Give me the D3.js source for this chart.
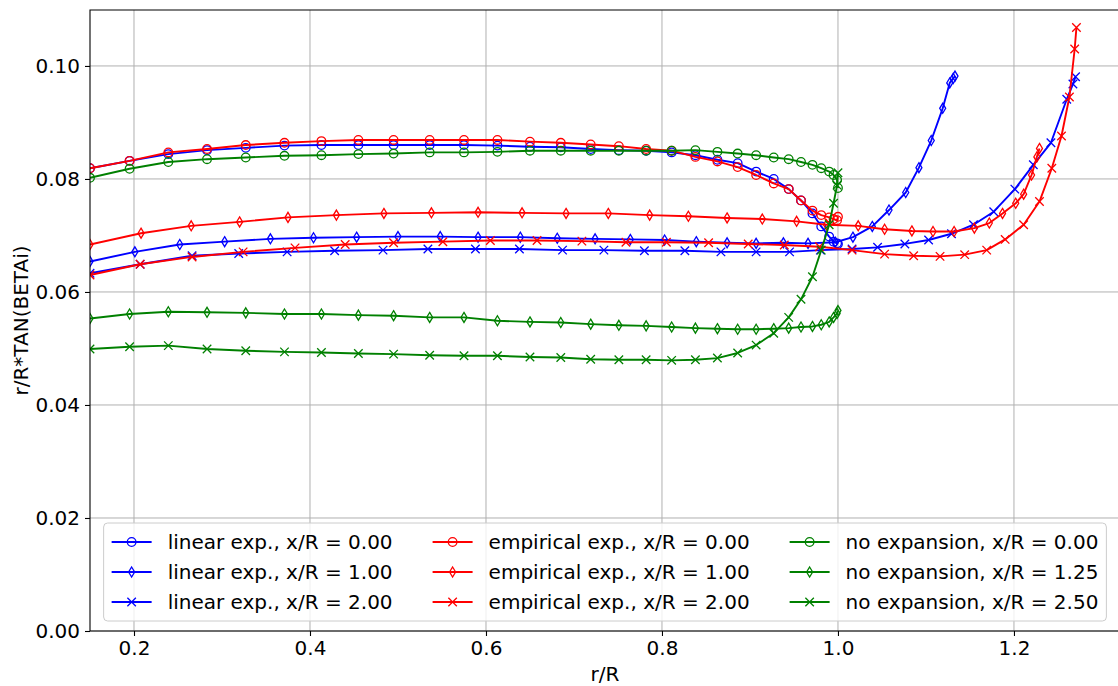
<!DOCTYPE html>
<html>
<head>
<meta charset="utf-8">
<script src="https://cdn.jsdelivr.net/npm/d3@7"></script>
<style>
  body { margin: 0; background: #fff; }
  svg { display: block; font-family: "DejaVu Sans", sans-serif; }
</style>
</head>
<body>
<div id="chart"></div>
<script>
// radial stations r/R, one list per run (blade expands with x/R)
const rBase = [0.150, 0.195, 0.239, 0.283, 0.327, 0.371, 0.413, 0.455, 0.495, 0.536, 0.575, 0.613, 0.650, 0.685, 0.719, 0.751, 0.782, 0.811, 0.838, 0.863, 0.886, 0.907, 0.927, 0.944, 0.958, 0.971, 0.981, 0.990, 0.995, 0.999, 1.000]
const rLin1 = [0.150, 0.201, 0.252, 0.303, 0.355, 0.404, 0.453, 0.500, 0.548, 0.591, 0.639, 0.681, 0.724, 0.764, 0.803, 0.839, 0.874, 0.907, 0.938, 0.966, 0.997, 1.017, 1.039, 1.058, 1.077, 1.092, 1.106, 1.119, 1.127, 1.131, 1.133]
const rLin2 = [0.150, 0.207, 0.266, 0.319, 0.374, 0.428, 0.483, 0.534, 0.588, 0.638, 0.687, 0.734, 0.780, 0.826, 0.867, 0.907, 0.945, 0.980, 1.016, 1.045, 1.076, 1.103, 1.129, 1.154, 1.177, 1.201, 1.222, 1.242, 1.260, 1.267, 1.270]
const rEmp1 = [0.150, 0.208, 0.265, 0.320, 0.375, 0.430, 0.484, 0.538, 0.591, 0.641, 0.691, 0.739, 0.786, 0.830, 0.874, 0.914, 0.953, 0.987, 1.023, 1.053, 1.084, 1.108, 1.132, 1.155, 1.172, 1.187, 1.202, 1.211, 1.220, 1.226, 1.229]
const rEmp2 = [0.150, 0.207, 0.266, 0.324, 0.383, 0.440, 0.495, 0.551, 0.605, 0.658, 0.709, 0.759, 0.805, 0.853, 0.898, 0.939, 0.979, 1.016, 1.053, 1.086, 1.116, 1.144, 1.169, 1.190, 1.211, 1.229, 1.243, 1.254, 1.263, 1.269, 1.271]

// r/R*tan(beta_i)
const linear0 = [0.0819, 0.0832, 0.0844, 0.0851, 0.0855, 0.0859, 0.0860, 0.0860, 0.0860, 0.0860, 0.0860, 0.0859, 0.0857, 0.0856, 0.0853, 0.0851, 0.0850, 0.0847, 0.0842, 0.0834, 0.0828, 0.0813, 0.0800, 0.0782, 0.0762, 0.0739, 0.0716, 0.0698, 0.0689, 0.0686, 0.0685]
const linear1 = [0.0654, 0.0671, 0.0684, 0.0689, 0.0694, 0.0696, 0.0697, 0.0698, 0.0698, 0.0697, 0.0697, 0.0695, 0.0694, 0.0693, 0.0692, 0.0689, 0.0687, 0.0686, 0.0687, 0.0686, 0.0688, 0.0697, 0.0716, 0.0745, 0.0776, 0.0820, 0.0868, 0.0925, 0.0970, 0.0978, 0.0982]
const linear2 = [0.0633, 0.0649, 0.0664, 0.0668, 0.0671, 0.0673, 0.0674, 0.0676, 0.0676, 0.0676, 0.0674, 0.0674, 0.0673, 0.0673, 0.0671, 0.0671, 0.0671, 0.0674, 0.0676, 0.0679, 0.0685, 0.0692, 0.0703, 0.0719, 0.0742, 0.0782, 0.0825, 0.0864, 0.0941, 0.0968, 0.0981]
const empirical0 = [0.0819, 0.0832, 0.0847, 0.0853, 0.0860, 0.0864, 0.0867, 0.0869, 0.0869, 0.0869, 0.0869, 0.0869, 0.0866, 0.0864, 0.0861, 0.0858, 0.0853, 0.0850, 0.0839, 0.0831, 0.0821, 0.0807, 0.0792, 0.0782, 0.0762, 0.0744, 0.0736, 0.0732, 0.0729, 0.0727, 0.0733]
const empirical1 = [0.0684, 0.0704, 0.0717, 0.0724, 0.0732, 0.0736, 0.0739, 0.0740, 0.0741, 0.0740, 0.0739, 0.0739, 0.0736, 0.0734, 0.0731, 0.0729, 0.0725, 0.0719, 0.0717, 0.0711, 0.0708, 0.0707, 0.0707, 0.0713, 0.0722, 0.0739, 0.0757, 0.0773, 0.0807, 0.0839, 0.0854]
const empirical2 = [0.0630, 0.0649, 0.0662, 0.0671, 0.0678, 0.0684, 0.0687, 0.0689, 0.0691, 0.0691, 0.0690, 0.0688, 0.0688, 0.0687, 0.0685, 0.0683, 0.0680, 0.0674, 0.0667, 0.0664, 0.0663, 0.0666, 0.0674, 0.0693, 0.0719, 0.0760, 0.0819, 0.0876, 0.0945, 0.1030, 0.1068]
const noexp0 = [0.0802, 0.0818, 0.0830, 0.0835, 0.0838, 0.0841, 0.0842, 0.0844, 0.0845, 0.0847, 0.0847, 0.0848, 0.0850, 0.0850, 0.0850, 0.0850, 0.0850, 0.0850, 0.0851, 0.0848, 0.0845, 0.0842, 0.0838, 0.0835, 0.0830, 0.0825, 0.0819, 0.0813, 0.0807, 0.0798, 0.0784]
const noexp1 = [0.0553, 0.0561, 0.0565, 0.0564, 0.0563, 0.0561, 0.0561, 0.0559, 0.0558, 0.0555, 0.0555, 0.0549, 0.0547, 0.0546, 0.0543, 0.0541, 0.0540, 0.0538, 0.0536, 0.0535, 0.0534, 0.0534, 0.0535, 0.0536, 0.0538, 0.0539, 0.0542, 0.0547, 0.0555, 0.0562, 0.0567]
const noexp2 = [0.0499, 0.0503, 0.0505, 0.0499, 0.0496, 0.0494, 0.0493, 0.0491, 0.0490, 0.0488, 0.0487, 0.0487, 0.0485, 0.0484, 0.0481, 0.0480, 0.0480, 0.0479, 0.0480, 0.0483, 0.0492, 0.0506, 0.0527, 0.0555, 0.0587, 0.0627, 0.0674, 0.0719, 0.0757, 0.0789, 0.0811]

const xTicks = [0.2, 0.4, 0.6, 0.8, 1.0, 1.2]
const yTicks = [0.00, 0.02, 0.04, 0.06, 0.08, 0.10]

const series = [
    { label: "linear exp., x/R = 0.00", r: rBase, v: linear0, color: "#0000ff", marker: "o" },
    { label: "linear exp., x/R = 1.00", r: rLin1, v: linear1, color: "#0000ff", marker: "d" },
    { label: "linear exp., x/R = 2.00", r: rLin2, v: linear2, color: "#0000ff", marker: "x" },
    { label: "empirical exp., x/R = 0.00", r: rBase, v: empirical0, color: "#ff0000", marker: "o" },
    { label: "empirical exp., x/R = 1.00", r: rEmp1, v: empirical1, color: "#ff0000", marker: "d" },
    { label: "empirical exp., x/R = 2.00", r: rEmp2, v: empirical2, color: "#ff0000", marker: "x" },
    { label: "no expansion, x/R = 0.00", r: rBase, v: noexp0, color: "#008000", marker: "o" },
    { label: "no expansion, x/R = 1.25", r: rBase, v: noexp1, color: "#008000", marker: "d" },
    { label: "no expansion, x/R = 2.50", r: rBase, v: noexp2, color: "#008000", marker: "x" }
]

const width = 1118
const height = 686
const plot = { left: 90, top: 10, right: 1120, bottom: 631 }

const x = d3.scaleLinear().domain([0.15, 1.3205]).range([plot.left, plot.right])
const y = d3.scaleLinear().domain([0, 0.1099]).range([plot.bottom, plot.top])

// matplotlib-like marker shapes as d3 symbol types
const thinDiamond = {
    draw(ctx, size) {
        const h = Math.sqrt(size) / 2, w = h * 0.6
        ctx.moveTo(0, -h); ctx.lineTo(w, 0); ctx.lineTo(0, h); ctx.lineTo(-w, 0); ctx.closePath()
    }
}
const xMark = {
    draw(ctx, size) {
        const s = Math.sqrt(size) / 2
        ctx.moveTo(-s, -s); ctx.lineTo(s, s); ctx.moveTo(-s, s); ctx.lineTo(s, -s)
    }
}
const symbols = {
    o: d3.symbol().type(d3.symbolCircle).size(Math.PI * 4.3 * 4.3),
    d: d3.symbol().type(thinDiamond).size(100),
    x: d3.symbol().type(xMark).size(72)
}

const svg = d3.select("#chart").append("svg")
    .attr("width", width)
    .attr("height", height)

svg.append("defs").append("clipPath").attr("id", "clip")
  .append("rect")
    .attr("x", plot.left).attr("y", plot.top)
    .attr("width", plot.right - plot.left).attr("height", plot.bottom - plot.top)

// grid
const grid = svg.append("g").attr("stroke", "#b0b0b0").attr("stroke-width", 1)
grid.selectAll(".gx").data(xTicks).join("line")
    .attr("x1", d => x(d)).attr("x2", d => x(d))
    .attr("y1", plot.top).attr("y2", plot.bottom)
grid.selectAll(".gy").data(yTicks).join("line")
    .attr("x1", plot.left).attr("x2", plot.right)
    .attr("y1", d => y(d)).attr("y2", d => y(d))

// series
const line = d3.line()
const plotArea = svg.append("g").attr("clip-path", "url(#clip)")

series.forEach(s => {
    const pts = s.r.map((r, i) => [x(r), y(s.v[i])])
    const g = plotArea.append("g")
    g.append("path")
        .attr("d", line(pts))
        .attr("fill", "none")
        .attr("stroke", s.color)
        .attr("stroke-width", 1.9)
        .attr("stroke-linejoin", "round")
    g.selectAll("path.m").data(pts).join("path")
        .attr("class", "m")
        .attr("transform", d => `translate(${d[0]},${d[1]})`)
        .attr("d", symbols[s.marker]())
        .attr("fill", "none")
        .attr("stroke", s.color)
        .attr("stroke-width", 1.3)
})

// axes
const xAxis = svg.append("g")
    .attr("transform", `translate(0,${plot.bottom})`)
    .call(d3.axisBottom(x).tickValues(xTicks).tickFormat(d3.format(".1f")).tickSize(5).tickPadding(5))
const yAxis = svg.append("g")
    .attr("transform", `translate(${plot.left},0)`)
    .call(d3.axisLeft(y).tickValues(yTicks).tickFormat(d3.format(".2f")).tickSize(5).tickPadding(5))

;[xAxis, yAxis].forEach(a => {
    a.select(".domain").remove()
    a.selectAll("text").attr("font-size", 20).attr("font-family", "DejaVu Sans").attr("fill", "#000")
    a.selectAll("line").attr("stroke", "#000").attr("stroke-width", 1.1)
})

// spines (right spine falls outside the picture)
const spines = svg.append("g").attr("stroke", "#000").attr("stroke-width", 1.1).attr("fill", "none")
spines.append("path").attr("d", `M${plot.right},${plot.top}H${plot.left}V${plot.bottom}H${plot.right}`)

svg.append("text")
    .attr("x", (plot.left + plot.right) / 2)
    .attr("y", 681)
    .attr("text-anchor", "middle")
    .attr("font-size", 20)
    .text("r/R")

svg.append("text")
    .attr("transform", `translate(28,${(plot.top + plot.bottom) / 2}) rotate(-90)`)
    .attr("text-anchor", "middle")
    .attr("font-size", 20)
    .text("r/R*TAN(BETAi)")

// legend, 3 columns, lower center
const fs = 20
const legend = svg.append("g")
const frame = legend.append("rect")
const cols = [0, 1, 2].map(c => series.slice(c * 3, c * 3 + 3))
const handleLen = 2 * fs, textPad = 0.8 * fs, colSpace = 2 * fs, pad = 0.4 * fs
const rowH = 30
const legH = 98
const legTop = plot.bottom - 10 - legH

const colGroups = cols.map(col => {
    const g = legend.append("g")
    col.forEach((s, i) => {
        const cy = legTop + 19 + i * rowH
        g.append("line")
            .attr("x1", 0).attr("x2", handleLen)
            .attr("y1", cy).attr("y2", cy)
            .attr("stroke", s.color).attr("stroke-width", 1.9)
        g.append("path")
            .attr("transform", `translate(${handleLen / 2},${cy})`)
            .attr("d", symbols[s.marker]())
            .attr("fill", "none").attr("stroke", s.color).attr("stroke-width", 1.3)
        g.append("text")
            .attr("x", handleLen + textPad)
            .attr("y", cy)
            .attr("dy", "0.35em")
            .attr("font-size", fs)
            .text(s.label)
    })
    return g
})

const colW = colGroups.map(g => g.node().getBBox().width)
const legW = pad * 2 + d3.sum(colW) + colSpace * 2
const legLeft = (plot.left + plot.right) / 2 - legW / 2
let cx = legLeft + pad
colGroups.forEach((g, i) => {
    g.attr("transform", `translate(${cx},0)`)
    cx += colW[i] + colSpace
})
frame
    .attr("x", legLeft).attr("y", legTop)
    .attr("width", legW).attr("height", legH)
    .attr("rx", 4)
    .attr("fill", "#fff").attr("fill-opacity", 0.8)
    .attr("stroke", "#cccccc").attr("stroke-width", 1)
</script>
</body>
</html>
